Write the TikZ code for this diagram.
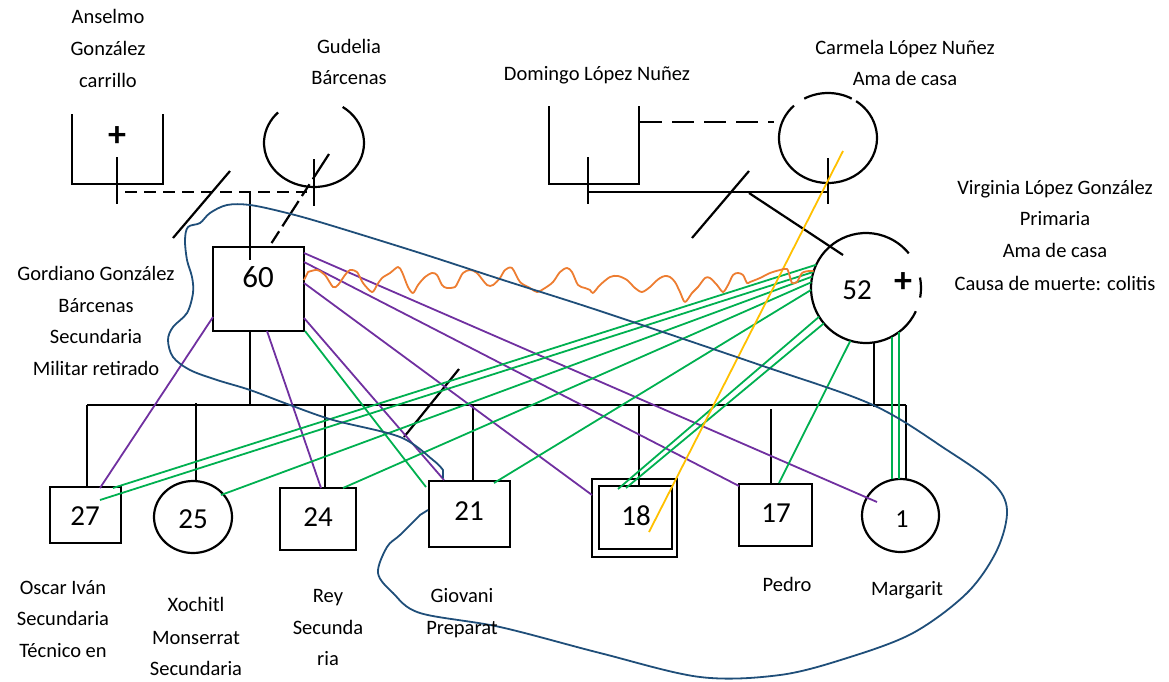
\documentclass[tikz,border=0pt]{standalone}
\usepackage{fontspec}
\setmainfont{Carlito}
\usetikzlibrary{shapes.geometric}
\definecolor{purpC}{RGB}{112,48,160}
\definecolor{grnC}{RGB}{0,176,80}
\definecolor{orgC}{RGB}{237,125,49}
\definecolor{yelC}{RGB}{255,192,0}
\definecolor{navC}{RGB}{31,78,121}
\tikzset{
  blk/.style={line width=2.2pt, black},
  pbox/.style={draw, line width=2.2pt, rectangle, inner sep=0pt, outer sep=0pt},
  pcirc/.style={draw, line width=2.2pt, ellipse, inner sep=0pt, outer sep=0pt},
  purp/.style={line width=1.8pt, purpC},
  grn/.style={line width=1.8pt, grnC},
  wave/.style={line width=1.8pt, orgC, line join=round},
  yel/.style={line width=1.8pt, yelC},
  nav/.style={line width=1.8pt, navC},
  lbl/.style={font=\fontsize{20.5}{24}\selectfont, anchor=base, inner sep=0pt},
  num/.style={font=\fontsize{29}{34}\selectfont, anchor=base, inner sep=0pt},
  plus/.style={font=\fontsize{36}{40}\selectfont\bfseries, anchor=center, inner sep=0pt},
}
\begin{document}
\begin{tikzpicture}[x={(1pt,0)}, y={(0,-1pt)}]
\useasboundingbox (0,0) rectangle (1169,681);

% ---------- grandparents (open symbols) ----------
\coordinate (ans) at (117.5,149);
\coordinate (gud) at (314,143);
\coordinate (dom) at (594,145);
\coordinate (car) at (828,138);
\coordinate (v52) at (866,288);
\coordinate (sibL) at (87,405);
\coordinate (sibR) at (906,405);

% Anselmo open box
\draw[blk] (72,114) -- (72,184) -- (163,184) -- (163,114);
\draw[blk] (117,157) -- (117,204);
\node[plus] (ansplus) at (117,137) {+};
% Gudelia open circle
\draw[blk] ([shift={(-55:50 and 44)}]gud) arc[start angle=-55, end angle=224, x radius=50, y radius=44];
\draw[blk] (314,159) -- (314,206);
% marriage (dashed) + separation slash
\draw[blk, dash pattern=on 12pt off 7pt] (125,192) -- (307,192);
\draw[blk] (230,171) -- (173,238);
\draw[blk, dash pattern=on 30pt off 6pt on 14pt off 6pt] (329,154) -- (269,247);

% Domingo open box
\draw[blk] (549,106) -- (549,184) -- (639,184) -- (639,106);
\draw[blk] (588,157) -- (588,204);
% Carmela open circle
\draw[blk] ([shift={(-119:49 and 45)}]car) arc[start angle=-119, end angle=-61, x radius=49, y radius=45];
\draw[blk] ([shift={(-55:49 and 45)}]car) arc[start angle=-55, end angle=226, x radius=49, y radius=45];
\draw[blk] (828,158) -- (828,204);
\draw[blk, dash pattern=on 22pt off 10pt] (640,122) -- (774,122);
\draw[blk] (588,192) -- (828,192);
\draw[blk] (749,171) -- (692,238);
\draw[blk] (749,193) -- (843,255);

% ---------- parents ----------
\node[pbox, minimum width=91pt, minimum height=84pt] (g60) at (258.5,289) {};
\node[num, font=\fontsize{31}{36}\selectfont] (t60) at (258,287) {60};
\draw[blk] (250,193) -- (250,260);
\draw[blk] (g60.south -| 250,0) -- (250,405);

% Virginia open circle
\draw[blk] ([shift={(25:55)}]v52) arc[start angle=25, end angle=321, radius=55];
\draw[blk] ([shift={(-11:55)}]v52) arc[start angle=-11, end angle=10, radius=55];
\node[num] (t52) at (857,299) {52};
\node[plus] (vplus) at (903,283) {+};
\draw[blk] (874,342) -- (874,407);

% ---------- sibling line & children ----------
\draw[blk] (sibL) -- (sibR);
\draw[blk] (459,369) -- (404,437);

\node[pbox, minimum width=71pt, minimum height=56pt] (c27) at (85.5,515) {};
\node[num] (t27) at (85,525) {27};
\node[pcirc, minimum width=78pt, minimum height=72pt] (c25) at (193,517) {};
\node[num] (t25) at (193,528) {25};
\node[pbox, minimum width=76pt, minimum height=62pt] (c24) at (318,519) {};
\node[num] (t24) at (318,526) {24};
\node[pbox, minimum width=81pt, minimum height=66pt] (c21) at (469.5,514) {};
\node[num] (t21) at (469,520) {21};
\node[pbox, minimum width=85pt, minimum height=78pt] (c18o) at (634.5,518) {};
\node[pbox, minimum width=73pt, minimum height=63pt] (c18) at (635.5,517.5) {};
\node[num] (t18) at (636,525) {18};
\node[pbox, minimum width=73pt, minimum height=62pt] (c17) at (775.5,515) {};
\node[num] (t17) at (776,522) {17};
\node[pcirc, minimum width=77pt, minimum height=73pt] (c1) at (900.5,515.5) {};
\node[num, font=\fontsize{26}{30}\selectfont] (t1) at (902,527) {1};

\draw[blk] (sibL) -- (c27.north -| sibL);
\draw[blk] (196,403) -- (c25.north -| 196,0);
\draw[blk] (325,405) -- (c24.north -| 325,0);
\draw[blk] (473,405) -- (c21.north -| 473,0);
\draw[blk] (639,404) -- (c18.north -| 639,0);
\draw[blk] (771,409) -- (c17.north -| 771,0);
\draw[blk] (sibR) -- (906,479);

% ---------- relationship lines ----------
% purple (from Gordiano)
\draw[purp] ([shift={(0,28)}]g60.west) -- ([shift={(14.5,1)}]c27.north);
\draw[purp] ([shift={(8.5,0)}]g60.south) -- ([shift={(3,0)}]c24.north);
\draw[purp] ([shift={(0,29)}]g60.east) -- ([shift={(-25.5,-1)}]c21.north);
\draw[purp] ([shift={(0,-6)}]g60.east) -- ([shift={(0,-23)}]c18o.west);
\draw[purp] ([shift={(0,-27)}]g60.east) -- ([shift={(0,-29)}]c17.west);
\draw[purp] ([shift={(0,-36)}]g60.east) -- ([shift={(-23.5,-13.5)}]c1.center);

% green
\draw[grn] ([shift={(1,0)}]g60.south east) -- ([shift={(-3,6)}]c21.north west);
\draw[grn] ([shift={(205:55)}]v52) -- ([shift={(27.5,1)}]c27.north);
\draw[grn] ([shift={(197:55)}]v52) -- ([shift={(14.5,-15)}]c27.center);
\draw[grn] ([shift={(192:55)}]v52) -- ([shift={(28,-22)}]c25.center);
\draw[grn] ([shift={(186:55)}]v52) -- ([shift={(25,0)}]c24.north);
\draw[grn] ([shift={(178:55)}]v52) -- ([shift={(24.5,2)}]c21.north);
\draw[grn] ([shift={(148.5:55)}]v52) -- ([shift={(-17.5,3)}]c18.north);
\draw[grn] ([shift={(140:55)}]v52) -- ([shift={(-9.5,2)}]c18.north);
\draw[grn] ([shift={(106.5:55)}]v52) -- ([shift={(3.5,-1)}]c17.north);
\draw[grn] ([shift={(26,48.5)}]v52) -- ([shift={(-8.5,0)}]c1.north);
\draw[grn] ([shift={(33,44)}]v52) -- ([shift={(-1.5,0)}]c1.north);

% yellow
\draw[yel] ([shift={(15,13)}]car) -- ([shift={(13.5,14.5)}]c18.center);

% orange wavy (conflict)
\draw[wave] ([shift={(0,-9)}]g60.east) -- plot[smooth, tension=0.5] coordinates {
(308,272) (317,270) (325,275) (333,287) (338,285) (345,275) (350,270) (357,272) (363,283) (372,292) (377,285) (382,278) (390,273) (398,267) (402,272) (408,287) (413,293) (418,285) (425,277) (432,273) (437,275) (442,285) (447,288) (455,287) (458,282) (463,273) (470,270) (477,273) (487,285) (493,285) (500,278) (505,270) (512,268) (520,282) (530,288) (537,292) (545,288) (553,282) (560,272) (567,268) (572,272) (578,285) (585,288) (590,290) (593,293) (600,285) (610,277) (618,276) (627,280) (635,288) (642,292) (650,287) (655,282) (660,278) (665,276) (670,277) (675,282) (680,292) (685,302) (692,293) (698,287) (705,278) (710,278) (717,285) (723,292) (728,285) (733,275) (738,273) (743,275) (747,283) (750,282) (760,278) (770,273) (780,270) (787,269) (790,277) (792,283) (797,282) (802,273) (809,271)} -- ([shift={(198:55)}]v52);

% navy loop
\draw[nav] ([shift={(-26.5,-3)}]c21.north) -- plot[smooth, tension=0.55] coordinates {
(443,470) (433,460) (400,437) (333,420) (290,405) (250,390) (217,380) (190,370) (173,357) (168,340) (173,327) (187,313) (193,293) (192,277) (187,260) (185,240) (188,227) (200,223) (210,213) (227,205) (250,205) (283,212) (323,223) (420,253) (503,280) (600,311) (760,365) (873,405) (947,450) (993,483) (1007,510) (997,550) (967,593) (913,633) (847,658) (780,675) (700,677) (600,653) (500,627) (420,613) (393,593) (378,573) (387,547) (400,535) (420,515)} -- ([shift={(-1,-4)}]c21.west);

% ---------- labels ----------
\node[lbl] (l1a) at (108,23) {Anselmo};
\node[lbl] (l1b) at (108,55) {González};
\node[lbl] (l1c) at (108,87) {carrillo};
\node[lbl] (l2a) at (349,53) {Gudelia};
\node[lbl] (l2b) at (349,84) {Bárcenas};
\node[lbl] (l3) at (597,80) {Domingo López Nuñez};
\node[lbl] (l4a) at (905,54) {Carmela López Nuñez};
\node[lbl] (l4b) at (905,85) {Ama de casa};
\node[lbl] (l5a) at (1055,194) {Virginia López González};
\node[lbl] (l5b) at (1055,225) {Primaria};
\node[lbl] (l5c) at (1055,257) {Ama de casa};
\node[lbl] (l5d) at (1055,290) {Causa de muerte: colitis};
\node[lbl] (l6a) at (96,280) {Gordiano González};
\node[lbl] (l6b) at (96,312) {Bárcenas};
\node[lbl] (l6c) at (96,343) {Secundaria};
\node[lbl] (l6d) at (96,375) {Militar retirado};
\node[lbl] (l7a) at (63,594) {Oscar Iván};
\node[lbl] (l7b) at (63,625) {Secundaria};
\node[lbl] (l7c) at (63,657) {Técnico en};
\node[lbl] (l8a) at (196,611) {Xochitl};
\node[lbl] (l8b) at (196,644) {Monserrat};
\node[lbl] (l8c) at (196,675) {Secundaria};
\node[lbl] (l9a) at (328,602) {Rey};
\node[lbl] (l9b) at (328,634) {Secunda};
\node[lbl] (l9c) at (328,665) {ria};
\node[lbl] (l10a) at (462,602) {Giovani};
\node[lbl] (l10b) at (462,634) {Preparat};
\node[lbl] (l11) at (787,591) {Pedro};
\node[lbl] (l12) at (907,595) {Margarit};
\end{tikzpicture}
\end{document}
